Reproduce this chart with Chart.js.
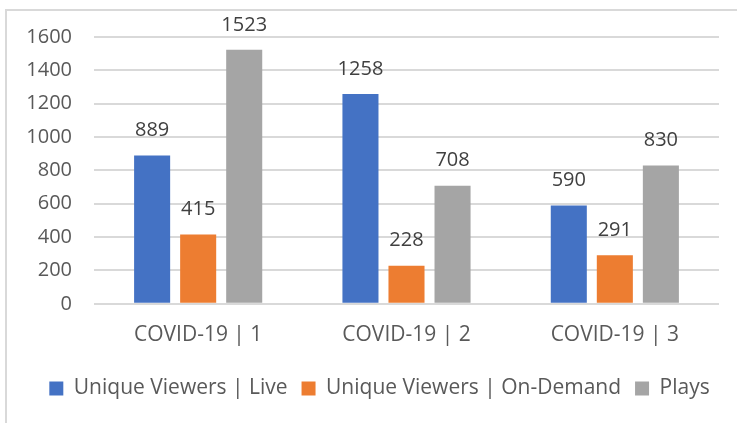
<!DOCTYPE html>
<html>
<head>
<meta charset="utf-8">
<script src="https://cdn.jsdelivr.net/npm/chart.js@4"></script>
<style>
  html, body { margin: 0; padding: 0; background: #fff; }
  #wrap { position: relative; width: 737px; height: 423px; }
  #frame { position: absolute; left: 5px; top: 9px; right: 0; bottom: 0;
           border-left: 2px solid #d9d9d9; border-top: 2px solid #d9d9d9; }
  canvas { position: absolute; left: 0; top: 0; }
</style>
</head>
<body>
<div id="wrap">
  <div id="frame"></div>
  <canvas id="myChart" width="737" height="423"></canvas>
</div>
<script>
var categories = ['COVID-19 | 1', 'COVID-19 | 2', 'COVID-19 | 3'];
var seriesNames = ['Unique Viewers | Live', 'Unique Viewers | On-Demand', 'Plays'];
var liveViewers = [889, 1258, 590];
var onDemandViewers = [415, 228, 291];
var plays = [1523, 708, 830];
var seriesColors = ['#4472c4', '#ed7d31', '#a5a5a5'];

var FONT = "'Open Sans', sans-serif";

// draws the value above each bar, like Excel "outside end" labels
var valueLabels = {
    id: 'valueLabels',
    afterDatasetsDraw: function (chart) {
        var ctx = chart.ctx;
        ctx.save();
        ctx.font = '20px ' + FONT;
        ctx.fillStyle = '#404040';
        ctx.textAlign = 'center';
        ctx.textBaseline = 'middle';
        chart.data.datasets.forEach(function (ds, i) {
            chart.getDatasetMeta(i).data.forEach(function (bar, j) {
                ctx.fillText(ds.data[j], bar.x, bar.y - 25);
            });
        });
        ctx.restore();
    }
};

// excel centres the legend under the whole frame, not just the plot
var shiftLegend = {
    id: 'shiftLegend',
    afterLayout: function (chart) {
        chart.legend.left += 20;
        chart.legend.right += 20;
    }
};

var ctx = document.getElementById('myChart').getContext('2d');
var myChart = new Chart(ctx, {
    type: 'bar',
    data: {
        labels: categories,
        datasets: [{
            label: seriesNames[0],
            data: liveViewers,
            backgroundColor: seriesColors[0]
        },
        {
            label: seriesNames[1],
            data: onDemandViewers,
            backgroundColor: seriesColors[1]
        },
        {
            label: seriesNames[2],
            data: plays,
            backgroundColor: seriesColors[2]
        }]
    },
    plugins: [valueLabels, shiftLegend],
    options: {
        responsive: false,
        animation: false,
        layout: {
            padding: { left: 0, right: 18, top: 37, bottom: 14 }
        },
        datasets: {
            bar: {
                categoryPercentage: 0.663,
                barPercentage: 0.783
            }
        },
        plugins: {
            legend: {
                position: 'bottom',
                labels: {
                    boxWidth: 14,
                    boxHeight: 14,
                    color: '#595959',
                    padding: 14,
                    font: { family: FONT, size: 21 }
                }
            },
            tooltip: { enabled: false }
        },
        scales: {
            x: {
                grid: { display: false },
                border: { display: false },
                afterFit: function (scale) { scale.height += 5; },
                ticks: {
                    color: '#595959',
                    padding: 11,
                    font: { family: FONT, size: 21 }
                }
            },
            y: {
                min: 0,
                max: 1600,
                afterFit: function (scale) { scale.width = 94; },
                grid: { color: '#d9d9d9', lineWidth: 2, drawTicks: false },
                border: { display: false },
                ticks: {
                    stepSize: 200,
                    color: '#595959',
                    padding: 22,
                    callback: function (v) { return String(v); },
                    font: { family: FONT, size: 20 }
                }
            }
        }
    }
});
</script>
</body>
</html>
